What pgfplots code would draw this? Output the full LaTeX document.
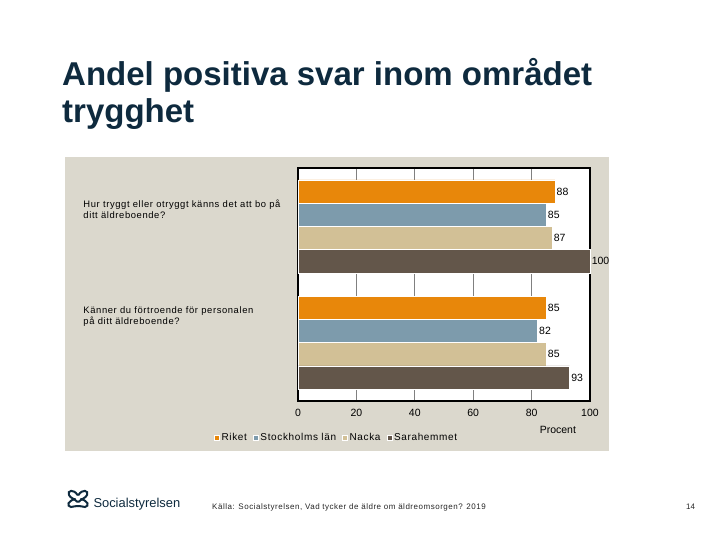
\documentclass[border=0pt]{standalone}
\usepackage{pgfplots}
\pgfplotsset{compat=1.18}
\usepackage{fontspec}
\setmainfont{Liberation Sans}
\newfontfamily\spaced[LetterSpace=6.5]{Liberation Sans}
\definecolor{riket}{RGB}{232,135,10}
\definecolor{sthlm}{RGB}{125,155,172}
\definecolor{nacka}{RGB}{210,192,150}
\definecolor{sara}{RGB}{99,86,74}
\definecolor{panel}{RGB}{219,216,205}
\definecolor{navy}{RGB}{14,42,62}
\definecolor{gridgray}{RGB}{128,128,128}
\begin{document}
\begin{tikzpicture}[x=1pt,y=1pt]
\useasboundingbox (0,0) rectangle (720,540);
\fill[white] (0,0) rectangle (720,540);
% title
\node[anchor=base west, inner sep=0pt, text=navy, font=\fontsize{33}{37}\selectfont\bfseries] at (62,454) {Andel positiva svar inom området};
\node[anchor=base west, inner sep=0pt, text=navy, font=\fontsize{33}{37}\selectfont\bfseries] at (62,417.3) {trygghet};
% panel
\fill[panel] (65,89) rectangle (608.5,383);
\begin{axis}[
  at={(298pt,139.3pt)}, anchor=south west,
  scale only axis, width=292pt, height=232.4pt,
  xbar, bar width=0.2,
  xmin=0, xmax=100, ymin=-0.5, ymax=1.5,
  clip=false,
  axis background/.style={fill=white},
  axis line style={black, line width=1.8pt},
  xmajorgrids, grid style={gridgray, line width=1pt},
  xtick={0,20,40,60,80,100},
  ytick={0.22,1.15},
  yticklabels={{Känner du förtroende för personalen\\på ditt äldreboende?},{Hur tryggt eller otryggt känns det att bo på\\ditt äldreboende?}},
  yticklabel style={anchor=west, align=left, inner sep=0pt, xshift=-214.7pt, font=\spaced\fontsize{9.4}{11}\selectfont, text=black},
  major tick length=0pt,
  tick style={draw=none},
  /pgf/number format/assume math mode=true,
  xticklabel style={font=\fontsize{10.5}{12}\selectfont, yshift=-5pt, text=black},
  xlabel={Procent},
  xlabel style={at={(rel axis cs:0.89,0)}, anchor=center, yshift=-29.3pt, font=\fontsize{10.5}{12}\selectfont},
  point meta=x,
  nodes near coords,
  nodes near coords style={font=\fontsize{10.5}{12}\selectfont, anchor=west, inner sep=1.5pt, text=black},
  legend style={at={(rel axis cs:-0.288,-0.158)}, anchor=west, draw=none, fill=none,
    font=\spaced\fontsize{10}{12}\selectfont, legend columns=4,
    /tikz/every even column/.append style={column sep=4pt},
    inner sep=0pt},
  legend image code/.code={\fill[#1] (0pt,-2.5pt) rectangle (5pt,2.5pt);},
  legend cell align=left,
]
\addplot[fill=riket, draw=white, line width=0.5pt, bar shift=0.3] coordinates {(88,1) (85,0)};
\addplot[fill=sthlm, draw=white, line width=0.5pt, bar shift=0.1] coordinates {(85,1) (82,0)};
\addplot[fill=nacka, draw=white, line width=0.5pt, bar shift=-0.1] coordinates {(87,1) (85,0)};
\addplot[fill=sara, draw=white, line width=0.5pt, bar shift=-0.3] coordinates {(100,1) (93,0)};
\legend{Riket, Stockholms län, Nacka, Sarahemmet}
\end{axis}
% footer logo
\begin{scope}[navy, line width=2pt, line cap=round]
\draw (77.5,45) .. controls (74,51) and (67,50) .. (69,45) .. controls (70,42) and (75,41) .. (77.5,38);
\draw (78.5,45) .. controls (82,51) and (89,50) .. (87,45) .. controls (86,42) and (81,41) .. (78.5,38);
\draw (75,41) .. controls (68,39) and (66,34) .. (71,33) .. controls (74,32.5) and (76,35) .. (78,34);
\draw (81,41) .. controls (88,39) and (90,34) .. (85,33) .. controls (82,32.5) and (80,35) .. (78,34);
\end{scope}
\node[anchor=base west, inner sep=0pt, text=navy, font=\fontsize{12.9}{14}\selectfont] at (93.3,32.7) {Socialstyrelsen};
\node[anchor=base west, inner sep=0pt, text=black!85, font=\spaced\fontsize{8}{9}\selectfont] at (212,30) {Källa: Socialstyrelsen, Vad tycker de äldre om äldreomsorgen? 2019};
\node[anchor=base, inner sep=0pt, text=black!85, font=\fontsize{8}{9}\selectfont] at (690.5,30) {14};
\end{tikzpicture}
\end{document}
